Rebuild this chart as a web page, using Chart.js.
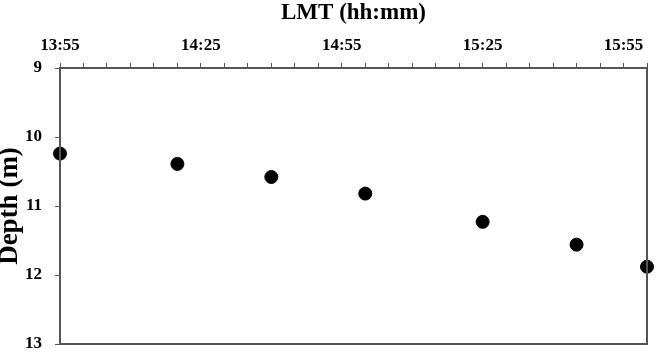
<!DOCTYPE html>
<html>
<head>
<meta charset="utf-8">
<script src="https://cdn.jsdelivr.net/npm/chart.js@4"></script>
<style>
html,body{margin:0;padding:0;background:#fff;}
#wrap{width:657px;height:360px;position:relative;}
</style>
</head>
<body>
<div id="wrap"><canvas id="c" width="657" height="360"></canvas></div>
<script>
const times = ["13:55","14:20","14:40","15:00","15:25","15:45","16:00"];
const depths = [10.24, 10.39, 10.58, 10.82, 11.23, 11.56, 11.88];
const xTickLabels = ["13:55","14:25","14:55","15:25","15:55"];
const yTicks = [9, 10, 11, 12, 13];

const startTime = "13:55";
function toMin(t){ const [h,m]=t.split(":").map(Number); return h*60+m; }
const t0 = toMin(startTime);
function fmt(v){ const tot=t0+v; const h=Math.floor(tot/60), m=tot%60; return h+":"+String(m).padStart(2,"0"); }
const majorSet = new Set(xTickLabels.map(l=>toMin(l)-t0));

const pts = times.map((t,i)=>({x: toMin(t)-t0, y: depths[i]}));

const boxPlugin = {
  id:'box',
  afterDraw(chart){
    const {ctx, chartArea:a} = chart;
    ctx.save();
    ctx.strokeStyle = '#555';
    ctx.lineWidth = 2;
    ctx.strokeRect(a.left, a.top, a.right-a.left, a.bottom-a.top);
    ctx.restore();
  }
};

const serif = "'Liberation Serif', 'Times New Roman', serif";

new Chart(document.getElementById('c'), {
  type:'scatter',
  data:{ datasets:[{
    data: pts,
    backgroundColor:'#000',
    borderColor:'#000',
    pointRadius:6.5,
    pointHoverRadius:6.5,
    clip:false
  }]},
  options:{
    responsive:false,
    animation:false,
    devicePixelRatio:1,
    layout:{padding:{left:0,right:10,top:0,bottom:0}},
    plugins:{legend:{display:false},tooltip:{enabled:false}},
    scales:{
      x:{
        type:'linear', position:'top', min:0, max:125,
        afterFit(s){ s.height = 68; s.paddingBottom = 16; },
        afterBuildTicks(s){ const t=[]; for(let v=0; v<=125; v+=5) t.push({value:v}); s.ticks=t; },
        border:{display:true,color:'#555',width:2},
        grid:{drawOnChartArea:false, drawTicks:true, tickLength:5, color:'#555', lineWidth:1},
        ticks:{
          autoSkip:false, maxRotation:0, padding:7, color:'#000',
          font:{family:serif, size:17, weight:'bold'},
          callback(v){ return majorSet.has(v) ? fmt(v) : ''; }
        },
        title:{display:true, text:'LMT (hh:mm)', color:'#000',
          font:{family:serif, size:23, weight:'bold', lineHeight:1.1}, padding:{top:0,bottom:0}}
      },
      y:{
        type:'linear', reverse:true, min:9, max:13,
        afterFit(s){ s.width = 60; s.paddingBottom = 16; s.paddingTop = 0; },
        afterBuildTicks(s){ s.ticks = yTicks.map(v=>({value:v})); },
        border:{display:true,color:'#555',width:2},
        grid:{drawOnChartArea:false, drawTicks:true, tickLength:5, color:'#555', lineWidth:1},
        ticks:{ padding:13, color:'#000', font:{family:serif, size:17, weight:'bold'} },
        title:{display:true, text:'Depth (m)', color:'#000',
          font:{family:serif, size:27, weight:'bold', lineHeight:0.75}, padding:{top:0,bottom:0}}
      }
    }
  },
  plugins:[boxPlugin]
});
</script>
</body>
</html>
